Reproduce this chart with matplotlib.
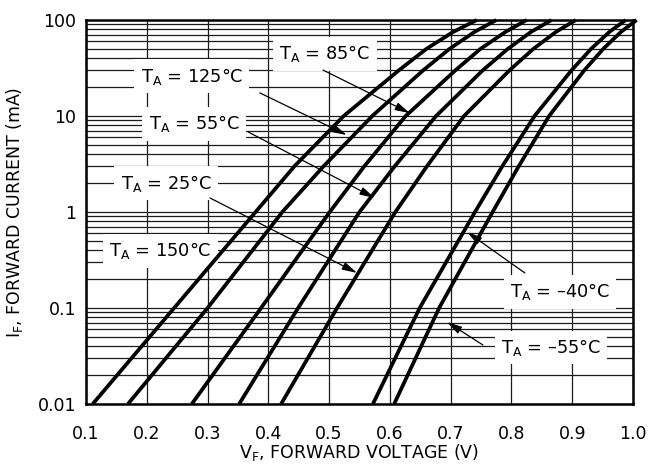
import matplotlib.pyplot as plt
from matplotlib.ticker import LogLocator, NullFormatter, FixedLocator

plt.rcParams['font.family'] = ['DejaVu Sans']
plt.rcParams['mathtext.default'] = 'regular'

# forward current points (mA) and forward voltage read for each temperature
current = [0.01, 0.1, 1, 3, 10, 30, 50, 75, 100]
vf_150 = [0.111, 0.245, 0.379, 0.443, 0.524, 0.615, 0.660, 0.704, 0.743]
vf_125 = [0.169, 0.300, 0.423, 0.491, 0.571, 0.655, 0.698, 0.739, 0.775]
vf_85 = [0.274, 0.388, 0.501, 0.558, 0.626, 0.708, 0.749, 0.790, 0.825]
vf_55 = [0.352, 0.449, 0.550, 0.608, 0.676, 0.753, 0.794, 0.832, 0.866]
vf_25 = [0.421, 0.513, 0.609, 0.661, 0.722, 0.797, 0.836, 0.873, 0.906]
vf_m40 = [0.572, 0.649, 0.740, 0.785, 0.838, 0.899, 0.931, 0.961, 0.988]
vf_m55 = [0.607, 0.681, 0.769, 0.812, 0.862, 0.920, 0.951, 0.980, 1.006]

x_ticks = [0.1, 0.2, 0.3, 0.4, 0.5, 0.6, 0.7, 0.8, 0.9, 1.0]
x_labels = ['0.1', '0.2', '0.3', '0.4', '0.5', '0.6', '0.7', '0.8', '0.9', '1.0']
y_ticks = [0.01, 0.1, 1, 10, 100]
y_labels = ['0.01', '0.1', '1', '10', '100']

# label text, text centre, arrow start, arrow tip (None = no arrow)
labels = [
    ('85', (0.493, 44.3), (0.490, 30.1), (0.633, 10.7)),
    ('125', (0.274, 26.1), (0.386, 17.4), (0.529, 6.34)),
    ('55', (0.278, 8.26), (0.367, 6.81), (0.575, 1.40)),
    ('25', (0.232, 2.0), (0.304, 1.40), (0.546, 0.232)),
    ('150', (0.222, 0.393), None, None),
    ('\u201340', (0.880, 0.147), (0.822, 0.232), (0.727, 0.619)),
    ('\u201355', (0.865, 0.039), (0.753, 0.0412), (0.694, 0.0715)),
]

fig = plt.figure(figsize=(6.51, 4.71), dpi=100)
ax = fig.add_axes([86 / 651, 67 / 471, 547 / 651, 384 / 471])

ax.set_yscale('log')
ax.set_xlim(0.1, 1.0)
ax.set_ylim(0.01, 100)

for vf in [vf_150, vf_125, vf_85, vf_55, vf_25, vf_m40, vf_m55]:
    ax.plot(vf, current, color='black', lw=2.7, clip_on=False, zorder=4,
            solid_capstyle='butt', solid_joinstyle='round')

ax.xaxis.set_major_locator(FixedLocator(x_ticks))
ax.set_xticklabels(x_labels)
ax.yaxis.set_major_locator(FixedLocator(y_ticks))
ax.set_yticklabels(y_labels)
ax.yaxis.set_minor_locator(LogLocator(base=10, subs=range(2, 10)))
ax.yaxis.set_minor_formatter(NullFormatter())

ax.grid(which='major', axis='both', color='0.1', lw=0.9, zorder=1)
ax.grid(which='minor', axis='y', color='0.1', lw=0.9, zorder=1)
ax.set_axisbelow(True)

ax.tick_params(which='both', length=0)
ax.tick_params(axis='x', pad=15, labelsize=12.5)
ax.tick_params(axis='y', pad=7, labelsize=12.5)
for sp in ax.spines.values():
    sp.set_linewidth(1.8)

ax.set_xlabel('V$_F$, FORWARD VOLTAGE (V)', fontsize=12.5)
ax.xaxis.set_label_coords(0.5, -0.1)
ax.set_ylabel('I$_F$, FORWARD CURRENT (mA)', fontsize=12.5)
ax.yaxis.set_label_coords(-0.112, 0.5)

for temp, pos, start, tip in labels:
    ax.text(pos[0], pos[1], 'T$_A$ = ' + temp + '\u00b0C', fontsize=12.8,
            ha='center', va='center', zorder=3,
            bbox=dict(boxstyle='square,pad=0.35', fc='white', ec='none'))
    if tip is not None:
        ax.annotate('', xy=tip, xytext=start, zorder=5,
                    arrowprops=dict(arrowstyle='-|>,head_length=0.75,head_width=0.2',
                                    color='black', lw=0.9, shrinkA=0, shrinkB=0,
                                    mutation_scale=12))

fig.savefig('out.png', dpi=100)
